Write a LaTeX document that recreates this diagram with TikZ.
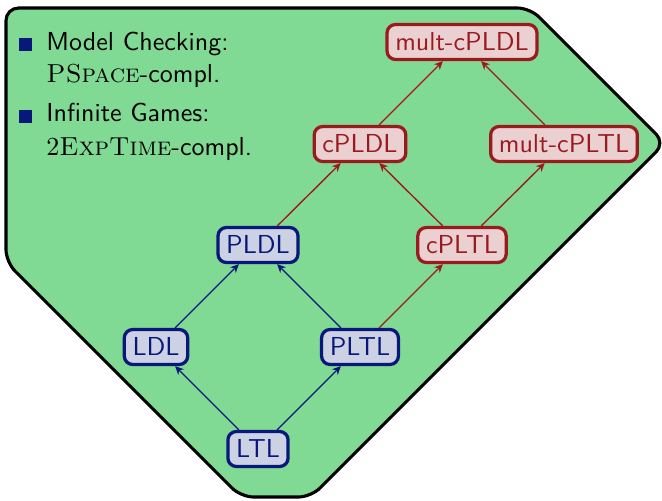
\documentclass[tikz,border=0pt]{standalone}
\usetikzlibrary{arrows.meta}

\definecolor{regionfill}{RGB}{128,218,148}
\definecolor{navyline}{RGB}{8,24,122}
\definecolor{navyfill}{RGB}{205,209,228}
\definecolor{redline}{RGB}{155,26,32}
\definecolor{redfill}{RGB}{235,208,210}
\definecolor{bulletcol}{RGB}{8,24,122}

\tikzset{
  logic/.style={rounded corners=3.4pt, line width=1.3pt, inner xsep=3.3pt,
    inner ysep=0pt, minimum height=14pt, text height=7.3pt, text depth=0.8pt,
    font=\sffamily\fontsize{10.4}{12}\selectfont},
  basic/.style={logic, draw=navyline, fill=navyfill, text=navyline},
  costly/.style={logic, draw=redline, fill=redfill, text=redline},
  upblue/.style={draw=navyline, line width=0.55pt, -{Stealth[length=3.4pt,width=3.2pt]}},
  upred/.style={draw=redline, line width=0.55pt, -{Stealth[length=3.4pt,width=3.2pt]}},
  bulletsq/.style={fill=bulletcol, inner sep=0pt, minimum size=5.2pt},
  itemtext/.style={anchor=base west, inner sep=0pt,
    font=\sffamily\fontsize{10.4}{12}\selectfont},
}

\begin{document}
\begin{tikzpicture}[x=0.4pt, y=-0.4pt]
\useasboundingbox (0,0) rectangle (662,501);

% region of the logics
\draw[line width=1.25pt, fill=regionfill, rounded corners=5pt]
  (6,8) -- (530,8) -- (665,143) -- (311,497) -- (241,497) -- (6,262) -- cycle;

% complexity notes
\node[bulletsq] (b1) at (25.5,44.5) {};
\node[bulletsq] (b2) at (25.5,116.5) {};
\node[itemtext] (t1) at (46,50) {Model Checking:};
\node[itemtext] (t2) at (46,82) {\textrm{\textsc{PSpace}}-compl.};
\node[itemtext] (t3) at (46,121) {Infinite Games:};
\node[itemtext] (t4) at (46,155) {\textrm{2\textsc{ExpTime}}-compl.};

% logics
\node[basic] (ltl) at (258,449) {LTL};
\node[basic] (ldl) at (156,347) {LDL};
\node[basic] (pltl) at (360,347) {PLTL};
\node[basic] (pldl) at (258,245) {PLDL};
\node[costly] (cpltl) at (462,245) {cPLTL};
\node[costly] (cpldl) at (360,144) {cPLDL};
\node[costly] (mcpltl) at (564,144) {mult-cPLTL};
\node[costly] (mcpldl) at (462,42) {mult-cPLDL};

% inclusions
\draw[upblue] (ltl) -- (ldl);
\draw[upblue] (ltl) -- (pltl);
\draw[upblue] (ldl) -- (pldl);
\draw[upblue] (pltl) -- (pldl);
\draw[upred] (pltl) -- (cpltl);
\draw[upred] (pldl) -- (cpldl);
\draw[upred] (cpltl) -- (cpldl);
\draw[upred] (cpltl) -- (mcpltl);
\draw[upred] (cpldl) -- (mcpldl);
\draw[upred] (mcpltl) -- (mcpldl);
\end{tikzpicture}
\end{document}
